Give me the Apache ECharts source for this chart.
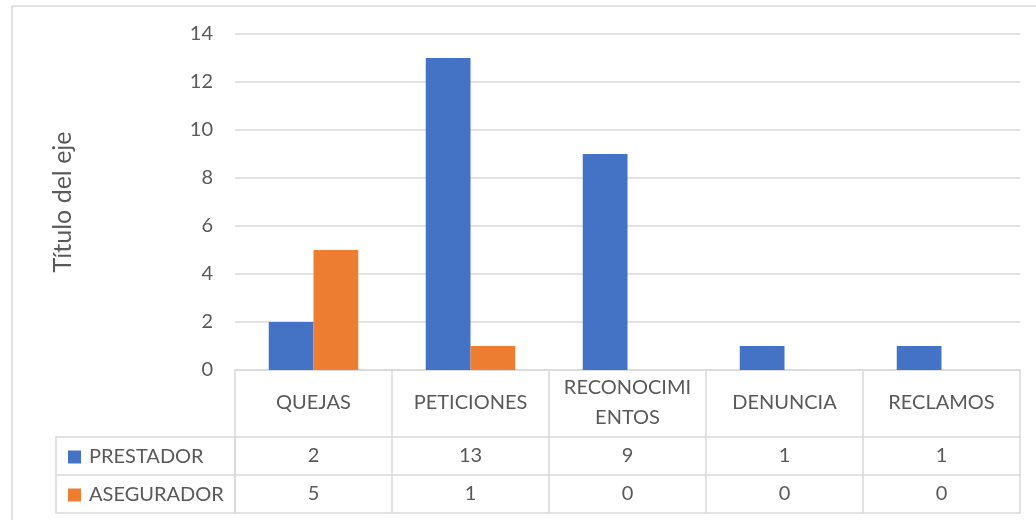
<!DOCTYPE html>
<html>
<head>
<meta charset="utf-8">
<script src="https://cdn.jsdelivr.net/npm/echarts@6/dist/echarts.min.js"></script>
<style>
html,body{margin:0;padding:0;background:#fff;}
#c{width:1036px;height:520px;}
</style>
</head>
<body>
<div id="c"></div>
<script>
const categories = ['QUEJAS', 'PETICIONES', 'RECONOCIMIENTOS', 'DENUNCIA', 'RECLAMOS'];
const prestador = [2, 13, 9, 1, 1];
const asegurador = [5, 1, 0, 0, 0];
const seriesNames = ['PRESTADOR', 'ASEGURADOR'];
const yTicks = [0, 2, 4, 6, 8, 10, 12, 14];
const axisTitle = 'Título del eje';

const FONT = 'Lato';
const TXT = '#595959';
const LINE = '#d9d9d9';
const FS = 20;

function wrapCat(v) {
  if (v.length > 12) return v.slice(0, 10) + '\n' + v.slice(10);
  return v;
}

const chart = echarts.init(document.getElementById('c'));
const rowAxis = (offset, values, showLabel) => ({
  type: 'category',
  data: categories,
  position: 'bottom',
  offset: offset,
  axisLine: { show: true, lineStyle: { color: LINE, width: 1.5 } },
  axisTick: { show: false },
  splitLine: { show: false },
  axisLabel: {
    show: showLabel,
    interval: 0,
    margin: 19,
    verticalAlign: 'middle',
    color: TXT,
    fontFamily: FONT,
    fontSize: FS,
    formatter: (v, i) => values ? String(values[i]) : ''
  }
});

chart.setOption({
  animation: false,
  textStyle: { fontFamily: FONT },
  graphic: [
    { type: 'rect', shape: { x: 12, y: 6, width: 1060, height: 560 }, style: { fill: 'none', stroke: LINE, lineWidth: 1.5 }, silent: true },
    { type: 'rect', shape: { x: 56, y: 437, width: 179, height: 76 }, style: { fill: 'none', stroke: LINE, lineWidth: 1.5 }, silent: true },
    { type: 'line', shape: { x1: 56, y1: 475, x2: 235, y2: 475 }, style: { stroke: LINE, lineWidth: 1.5 }, silent: true }
  ],
  legend: {
    orient: 'vertical',
    left: 63,
    top: 442,
    itemWidth: 13,
    itemHeight: 13,
    itemGap: 18,
    icon: 'rect',
    data: seriesNames,
    textStyle: { color: TXT, fontFamily: FONT, fontSize: FS, lineHeight: 20, padding: [0, 0, 0, 3] }
  },
  grid: { left: 235, right: 16, top: 34, bottom: 150, containLabel: false },
  xAxis: [
    {
      type: 'category',
      data: categories,
      axisLine: { show: true, lineStyle: { color: LINE, width: 1.5 } },
      axisTick: { show: true, length: 143, interval: 0, lineStyle: { color: LINE, width: 1.5 } },
      axisLabel: {
        interval: 0,
        margin: 33,
        verticalAlign: 'middle',
        color: TXT,
        fontFamily: FONT,
        fontSize: FS,
        lineHeight: 30,
        formatter: wrapCat
      }
    },
    rowAxis(67, prestador, true),
    rowAxis(105, asegurador, true),
    rowAxis(143, null, false)
  ],
  yAxis: {
    type: 'value',
    min: yTicks[0],
    max: yTicks[yTicks.length - 1],
    interval: 2,
    name: axisTitle,
    nameLocation: 'middle',
    nameRotate: 90,
    nameGap: 160,
    nameTextStyle: { color: TXT, fontFamily: FONT, fontSize: 25 },
    axisLine: { show: false },
    axisTick: { show: false },
    axisLabel: { color: TXT, fontFamily: FONT, fontSize: FS, margin: 22 },
    splitLine: { lineStyle: { color: LINE, width: 1.5 } }
  },
  series: [
    { name: seriesNames[0], type: 'bar', data: prestador, barGap: '0%', barCategoryGap: '43%', itemStyle: { color: '#4472C4' } },
    { name: seriesNames[1], type: 'bar', data: asegurador, barGap: '0%', barCategoryGap: '43%', itemStyle: { color: '#ED7D31' } }
  ]
});
</script>
</body>
</html>
